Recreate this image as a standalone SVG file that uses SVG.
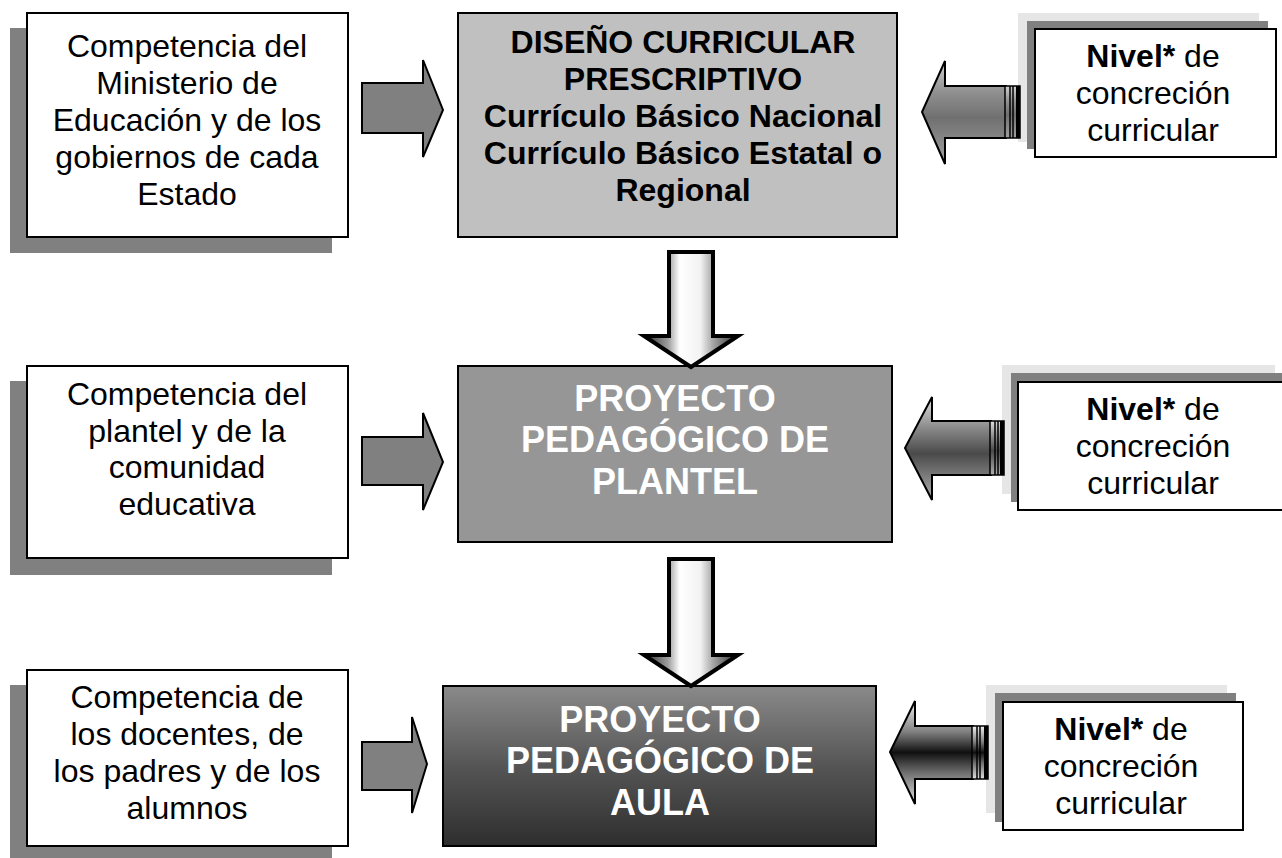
<svg xmlns="http://www.w3.org/2000/svg" width="1282" height="858" viewBox="0 0 1282 858">
<style>
text{font-family:"Liberation Sans",Arial,sans-serif;font-size:32px;text-anchor:middle;fill:#000}
.b{font-weight:bold}
.w{fill:#fff;font-weight:bold;font-size:36px}
.box{stroke:#000;stroke-width:2}
.sh{fill:#808080}
.lt{fill:#e6e6e6}
.ra{fill:#808080;stroke:#000;stroke-width:2;stroke-linejoin:miter}
.da{fill:url(#gDown);stroke:#000;stroke-width:4;stroke-linejoin:miter}
.la{stroke:#000;stroke-width:2}
.band{fill:none;stroke:#000;stroke-width:1.5}
</style>
<defs>
<linearGradient id="gDown" x1="0" y1="0" x2="1" y2="0">
<stop offset="0" stop-color="#2a2a2a"/>
<stop offset="0.26" stop-color="#a0a0a0"/>
<stop offset="0.38" stop-color="#ffffff"/>
<stop offset="0.6" stop-color="#f2f2f2"/>
<stop offset="0.73" stop-color="#a8a8a8"/>
<stop offset="1" stop-color="#2a2a2a"/>
</linearGradient>
<linearGradient id="gL1" x1="0" y1="0" x2="0" y2="1">
<stop offset="0" stop-color="#d0d0d0"/>
<stop offset="0.3" stop-color="#909090"/>
<stop offset="0.55" stop-color="#707070"/>
<stop offset="1" stop-color="#a0a0a0"/>
</linearGradient>
<linearGradient id="gL2" x1="0" y1="0" x2="0" y2="1">
<stop offset="0" stop-color="#e0e0e0"/>
<stop offset="0.3" stop-color="#8a8a8a"/>
<stop offset="0.55" stop-color="#4a4a4a"/>
<stop offset="1" stop-color="#b0b0b0"/>
</linearGradient>
<linearGradient id="gL3" x1="0" y1="0" x2="0" y2="1">
<stop offset="0" stop-color="#f0f0f0"/>
<stop offset="0.3" stop-color="#808080"/>
<stop offset="0.5" stop-color="#101010"/>
<stop offset="0.7" stop-color="#707070"/>
<stop offset="1" stop-color="#e0e0e0"/>
</linearGradient>
<linearGradient id="gAula" x1="0" y1="0" x2="0" y2="1">
<stop offset="0" stop-color="#8a8a8a"/>
<stop offset="0.5" stop-color="#555555"/>
<stop offset="1" stop-color="#2e2e2e"/>
</linearGradient>
</defs>

<g id="comp-ministerio">
<rect class="sh" x="10" y="28" width="322" height="225"/>
<rect class="box" x="27" y="13" width="321" height="224" fill="#fff"/>
<text x="187" y="57">Competencia del</text>
<text x="187" y="94">Ministerio de</text>
<text x="187" y="131">Educación y de los</text>
<text x="187" y="168">gobiernos de cada</text>
<text x="187" y="205">Estado</text>
</g>

<g id="diseno-curricular">
<rect class="box" x="458" y="13" width="439" height="224" fill="#c0c0c0"/>
<text class="b" x="683" y="53">DISEÑO CURRICULAR</text>
<text class="b" x="683" y="90">PRESCRIPTIVO</text>
<text class="b" x="683" y="127">Currículo Básico Nacional</text>
<text class="b" x="683" y="164">Currículo Básico Estatal o</text>
<text class="b" x="683" y="201">Regional</text>
</g>

<g id="nivel-1">
<rect class="lt" x="1018" y="13" width="241" height="129"/>
<rect class="sh" x="1027" y="21" width="241" height="128"/>
<rect class="box" x="1035" y="29" width="241" height="128" fill="#fff"/>
<text x="1153" y="67"><tspan class="b">Nivel*</tspan> de</text>
<text x="1153" y="104">concreción</text>
<text x="1153" y="141">curricular</text>
</g>

<g id="comp-plantel">
<rect class="sh" x="10" y="381" width="322" height="194"/>
<rect class="box" x="27" y="366" width="321" height="192" fill="#fff"/>
<text x="187" y="405">Competencia del</text>
<text x="187" y="442">plantel y de la</text>
<text x="187" y="478">comunidad</text>
<text x="187" y="515">educativa</text>
</g>

<g id="proyecto-plantel">
<rect class="box" x="458" y="366" width="434" height="176" fill="#969696"/>
<text class="w" x="675" y="411">PROYECTO</text>
<text class="w" x="675" y="452">PEDAGÓGICO DE</text>
<text class="w" x="675" y="494">PLANTEL</text>
</g>

<g id="nivel-2">
<rect class="lt" x="1002" y="365" width="273" height="129"/>
<rect class="sh" x="1011" y="373" width="275" height="129"/>
<rect class="box" x="1018" y="382" width="270" height="128" fill="#fff"/>
<text x="1153" y="420"><tspan class="b">Nivel*</tspan> de</text>
<text x="1153" y="457">concreción</text>
<text x="1153" y="494">curricular</text>
</g>

<g id="comp-docentes">
<rect class="sh" x="10" y="685" width="322" height="173"/>
<rect class="box" x="27" y="670" width="321" height="176" fill="#fff"/>
<text x="187" y="708">Competencia de</text>
<text x="187" y="745">los docentes, de</text>
<text x="187" y="782">los padres y de los</text>
<text x="187" y="819">alumnos</text>
</g>

<g id="proyecto-aula">
<rect class="box" x="443" y="686" width="433" height="160" fill="url(#gAula)"/>
<text class="w" x="660" y="732">PROYECTO</text>
<text class="w" x="660" y="773">PEDAGÓGICO DE</text>
<text class="w" x="660" y="815">AULA</text>
</g>

<g id="nivel-3">
<rect class="lt" x="986" y="685" width="241" height="128"/>
<rect class="sh" x="995" y="693" width="241" height="129"/>
<rect class="box" x="1003" y="702" width="240" height="128" fill="#fff"/>
<text x="1121" y="740"><tspan class="b">Nivel*</tspan> de</text>
<text x="1121" y="777">concreción</text>
<text x="1121" y="814">curricular</text>
</g>

<g id="connectors">
<!-- right-pointing block arrows -->
<polygon class="ra" points="362,83 423,83 423,60 443,110 423,157 423,133 362,133"/>
<polygon class="ra" points="362,437 423,437 423,413 443,462 423,510 423,485 362,485"/>
<polygon class="ra" points="362,742 412,742 412,717 427,764 412,813 412,790 362,790"/>
<!-- down arrows -->
<polygon class="da" points="669,252 713,252 713,336 738,336 691,367 644,336 669,336"/>
<polygon class="da" points="669,559 713,559 713,655 738,655 691,686 644,655 669,655"/>
<!-- left-pointing 3D arrows -->
<g>
<polygon class="la" fill="url(#gL1)" points="1006,86 945,86 945,61 922,112 945,164 945,138 1006,138"/>
<rect x="1005" y="86" width="15" height="52" fill="url(#gL1)" stroke="#000" stroke-width="1.5"/>
<line class="band" x1="1010" y1="86" x2="1010" y2="138"/>
<line class="band" x1="1013" y1="86" x2="1013" y2="138"/>
<rect x="1016" y="86" width="4" height="52" fill="#000"/>
</g>
<g>
<polygon class="la" fill="url(#gL2)" points="991,421 932,421 932,397 905,448 932,500 932,475 991,475"/>
<rect x="990" y="421" width="14" height="54" fill="url(#gL2)" stroke="#000" stroke-width="1.5"/>
<line class="band" x1="995" y1="421" x2="995" y2="475"/>
<line class="band" x1="998" y1="421" x2="998" y2="475"/>
<rect x="1000" y="421" width="4" height="54" fill="#000"/>
</g>
<g>
<polygon class="la" fill="url(#gL3)" points="973,726 915,726 915,701 890,752 915,804 915,779 973,779"/>
<rect x="972" y="726" width="16" height="53" fill="url(#gL3)" stroke="#000" stroke-width="1.5"/>
<line class="band" x1="977" y1="726" x2="977" y2="779"/>
<line class="band" x1="980" y1="726" x2="980" y2="779"/>
<rect x="984" y="726" width="4" height="53" fill="#000"/>
</g>
</g>
</svg>
